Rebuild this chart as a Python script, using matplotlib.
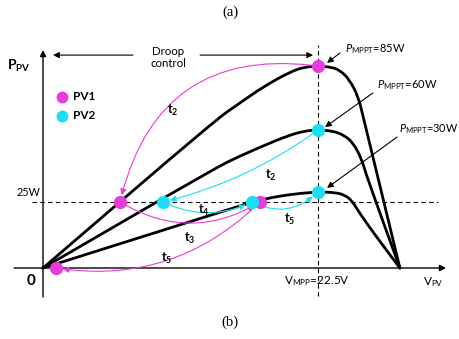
import numpy as np
import matplotlib
matplotlib.use("Agg")
import matplotlib.pyplot as plt
from matplotlib.path import Path
from matplotlib.patches import PathPatch, FancyArrowPatch

plt.rcParams['font.family'] = ['Lato', 'DejaVu Sans']
plt.rcParams['mathtext.fontset'] = 'custom'
plt.rcParams['mathtext.rm'] = 'Lato'
plt.rcParams['mathtext.it'] = 'Lato:italic'
plt.rcParams['mathtext.bf'] = 'Lato:bold'

MAG = '#E63CD8'
CYA = '#1ADFF2'

# P-V curves (V in volt, P in drawing units of the sketch)
v85 = [0, 14.1, 16.1, 18.0, 20.2, 21.4, 22.5, 23.5, 24.3, 25.1, 25.8, 26.2, 29.2]
p85 = [0, 62.3, 69.4, 76.2, 82.5, 84.6, 85.0, 84.6, 83.3, 79.1, 72.0, 63.6, 0]
v60 = [0, 14.1, 16.1, 18.2, 20.0, 21.4, 22.5, 23.7, 24.6, 25.4, 26.1, 26.5, 29.2]
p60 = [0, 42.1, 47.1, 51.8, 55.6, 57.7, 58.1, 57.7, 56.0, 52.6, 45.5, 38.3, 0]
v30 = [0, 15.3, 16.9, 18.2, 19.4, 21.0, 22.5, 23.9, 24.7, 25.3, 25.9, 27.3, 29.2]
p30 = [0, 24.8, 27.4, 29.1, 30.3, 31.4, 32.0, 31.8, 30.7, 28.2, 23.1, 13.0, 0]

v_mpp = 22.5
p_droop = 27.8   # the 25W level

# operating points
pv1_v = [22.5, 6.3, 17.76, 1.06]
pv1_p = [85.0, 27.8, 27.8, 0.0]
pv2_v = [22.5, 22.5, 9.82, 17.1]
pv2_p = [58.1, 32.0, 27.8, 27.8]

# transitions: (from, to, label, rad)
pv1_moves = [(0, 1, '2', 0.45), (1, 2, '3', 0.30), (2, 3, '5', -0.25)]
pv2_moves = [(0, 2, '2', -0.10), (2, 3, '4', 0.24), (3, 1, '5', 0.35)]
pv1_lab = [(10.6, 66.5), (12.0, 12.6), (10.15, 4.2)]
pv2_lab = [(18.6, 39.1), (13.2, 24.4), (20.2, 20.6)]


def smooth(vs, ps):
    pts = list(zip(vs, ps))
    verts = [pts[0]]
    codes = [Path.MOVETO]
    mid = lambda a, b: ((a[0] + b[0]) / 2, (a[1] + b[1]) / 2)
    verts.append(mid(pts[0], pts[1]))
    codes.append(Path.LINETO)
    for i in range(1, len(pts) - 1):
        verts += [pts[i], mid(pts[i], pts[i + 1])]
        codes += [Path.CURVE3, Path.CURVE3]
    verts.append(pts[-1])
    codes.append(Path.LINETO)
    return Path(verts, codes)


fig = plt.figure(figsize=(4.6, 3.39), dpi=100)
ax = fig.add_axes([0, 0, 1, 1])
ax.set_xlim(-3.519, 34.12)
ax.set_ylim(-29.88, 112.79)
ax.axis('off')

# axes with arrows
ax.annotate('', xy=(32.98, 0), xytext=(-2.37, 0),
            arrowprops=dict(arrowstyle='-|>', lw=1.0, color='k', mutation_scale=9, shrinkA=0, shrinkB=0))
ax.annotate('', xy=(0, 91.75), xytext=(0, -12.2),
            arrowprops=dict(arrowstyle='-|>', lw=1.0, color='k', mutation_scale=9, shrinkA=0, shrinkB=0))

# dashed guides
ax.plot([v_mpp, v_mpp], [-11.8, 93.9], color='k', lw=0.8, dashes=(4, 3))
ax.plot([-0.9, 32.3], [p_droop, p_droop], color='k', lw=0.8, dashes=(4, 3))

for vs, ps in [(v85, p85), (v60, p60), (v30, p30)]:
    ax.add_patch(PathPatch(smooth(vs, ps), fill=False, lw=2.0, ec='k', capstyle='round', joinstyle='round'))

# droop control arrows
ax.annotate('', xy=(0.82, 89.6), xytext=(7.36, 89.6),
            arrowprops=dict(arrowstyle='-|>', lw=0.8, color='k', mutation_scale=9, shrinkA=0, shrinkB=0))
ax.annotate('', xy=(22.1, 89.6), xytext=(12.85, 89.6),
            arrowprops=dict(arrowstyle='-|>', lw=0.8, color='k', mutation_scale=9, shrinkA=0, shrinkB=0))
ax.text(10.23, 88.6, 'Droop\ncontrol', ha='center', va='center', fontsize=8.3, linespacing=1.2)

# MPPT labels
for lab, xy, xt in [('85W', (23.24, 86.3), (24.3, 90.5)),
                    ('60W', (23.08, 59.3), (27.0, 73.7)),
                    ('30W', (23.24, 33.7), (28.97, 55.1))]:
    ax.annotate('', xy=xy, xytext=xt,
                arrowprops=dict(arrowstyle='-|>', lw=0.8, color='k', mutation_scale=9, shrinkA=0, shrinkB=0))
ax.text(24.71, 92.2, r'$P_{\mathrm{MPPT}}$=85W', fontsize=8, va='center')
ax.text(27.33, 77.0, r'$P_{\mathrm{MPPT}}$=60W', fontsize=8, va='center')
ax.text(29.1, 58.5, r'$P_{\mathrm{MPPT}}$=30W', fontsize=7.8, va='center')


def moves(vs, ps, mv, labs, col):
    for (a, b, t, rad), (lx, ly) in zip(mv, labs):
        arr = FancyArrowPatch((vs[a], ps[a]), (vs[b], ps[b]),
                              connectionstyle='arc3,rad=%.2f' % rad,
                              arrowstyle='-|>', mutation_scale=9, lw=0.8, color=col,
                              shrinkA=5, shrinkB=5, zorder=4)
        ax.add_patch(arr)
        ax.text(lx, ly, r'$\mathbf{t_%s}$' % t, fontsize=9, ha='center', va='center', zorder=6)


moves(pv1_v, pv1_p, pv1_moves, pv1_lab, MAG)
moves(pv2_v, pv2_p, pv2_moves, pv2_lab, CYA)

ax.plot(pv1_v, pv1_p, 'o', ms=8.5, color=MAG, ls='none', zorder=5)
ax.plot(pv2_v, pv2_p, 'o', ms=8.5, color=CYA, ls='none', zorder=5)

# legend
ax.plot([1.55], [72.0], 'o', ms=7.5, color=MAG)
ax.plot([1.55], [64.0], 'o', ms=7.5, color=CYA)
ax.text(2.45, 72.0, 'PV1', fontsize=8.5, fontweight='bold', va='center')
ax.text(2.45, 64.0, 'PV2', fontsize=8.5, fontweight='bold', va='center')

# axis texts
ax.text(-1.96, 85.0, r'$\mathbf{P}_{\mathbf{PV}}$', fontsize=10, ha='center', va='center')
ax.text(-1.15, 31.6, '25W', fontsize=7.8, ha='center', va='center')
ax.text(-0.98, -5.5, '0', fontsize=11, fontweight='bold', ha='center', va='center')
ax.text(22.42, -5.5, r'V$_{\mathrm{MPP}}$=22.5V', fontsize=8.5, ha='center', va='center')
ax.text(31.9, -5.9, r'V$_{\mathrm{PV}}$', fontsize=8.5, ha='center', va='center')

ax.text(15.3, 107.7, '(a)', fontsize=10.5, family='Liberation Serif', ha='center', va='center')
ax.text(15.3, -22.7, '(b)', fontsize=10.5, family='Liberation Serif', ha='center', va='center')

fig.savefig('out.png', dpi=100)
